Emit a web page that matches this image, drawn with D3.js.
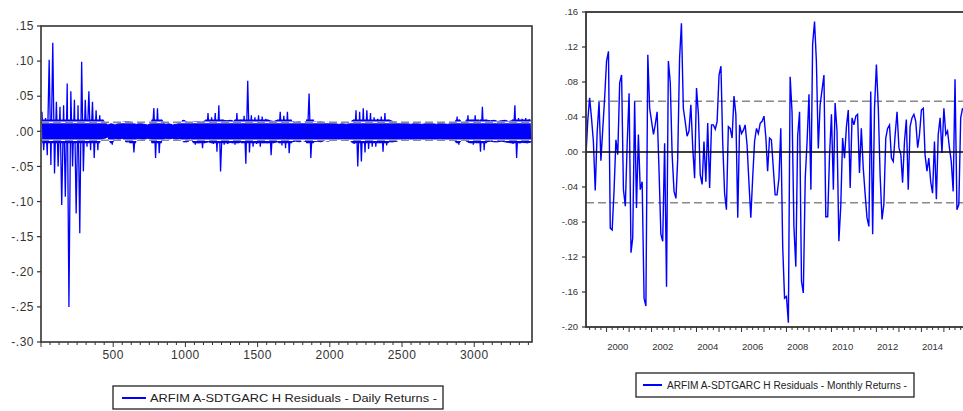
<!DOCTYPE html>
<html>
<head>
<meta charset="utf-8">
<script src="https://cdn.jsdelivr.net/npm/d3@7"></script>
<style>
  body { margin: 0; background: #fff; }
  svg { display: block; }
</style>
</head>
<body>
<div id="chart"></div>
<script>
// Daily residuals, read off the picture as a high / low envelope,
// one pair for every 25 observations (obs 0..3400).
const DAILY_BUCKET = 25;
const dailyHi = [
  0.028, 0.019, 0.102, 0.126, 0.042, 0.035, 0.037, 0.068, 0.057, 0.045,
  0.037, 0.099, 0.045, 0.057, 0.042, 0.030, 0.023, 0.014, 0.009, 0.011,
  0.009, 0.011, 0.013, 0.014, 0.014, 0.011, 0.010, 0.012, 0.010, 0.009,
  0.011, 0.033, 0.033, 0.016, 0.010, 0.011, 0.009, 0.010, 0.012, 0.016,
  0.013, 0.011, 0.014, 0.014, 0.013, 0.015, 0.026, 0.020, 0.026, 0.037,
  0.016, 0.015, 0.016, 0.014, 0.026, 0.016, 0.022, 0.072, 0.023, 0.020,
  0.023, 0.021, 0.018, 0.015, 0.014, 0.016, 0.028, 0.022, 0.028, 0.014,
  0.013, 0.014, 0.012, 0.014, 0.054, 0.014, 0.013, 0.014, 0.012, 0.013,
  0.011, 0.011, 0.010, 0.011, 0.010, 0.011, 0.016, 0.030, 0.028, 0.033,
  0.030, 0.026, 0.020, 0.018, 0.021, 0.026, 0.016, 0.014, 0.013, 0.011,
  0.012, 0.011, 0.010, 0.012, 0.011, 0.010, 0.011, 0.012, 0.011, 0.010,
  0.012, 0.011, 0.010, 0.011, 0.012, 0.021, 0.012, 0.013, 0.023, 0.016,
  0.023, 0.014, 0.035, 0.016, 0.015, 0.016, 0.014, 0.015, 0.016, 0.014,
  0.015, 0.037, 0.019, 0.018, 0.019, 0.017
];
const dailyLo = [
  -0.027, -0.034, -0.048, -0.060, -0.050, -0.105, -0.093, -0.250, -0.050, -0.117,
  -0.145, -0.057, -0.022, -0.027, -0.038, -0.027, -0.012, -0.010, -0.008, -0.019,
  -0.010, -0.012, -0.010, -0.015, -0.015, -0.030, -0.010, -0.011, -0.012, -0.010,
  -0.011, -0.038, -0.031, -0.013, -0.010, -0.011, -0.010, -0.012, -0.010, -0.015,
  -0.015, -0.010, -0.019, -0.017, -0.024, -0.016, -0.015, -0.018, -0.029, -0.057,
  -0.019, -0.018, -0.016, -0.019, -0.017, -0.015, -0.046, -0.030, -0.022, -0.018,
  -0.022, -0.017, -0.017, -0.034, -0.016, -0.015, -0.020, -0.024, -0.031, -0.015,
  -0.014, -0.015, -0.013, -0.015, -0.038, -0.015, -0.014, -0.015, -0.013, -0.014,
  -0.012, -0.012, -0.012, -0.011, -0.012, -0.012, -0.018, -0.050, -0.043, -0.030,
  -0.025, -0.022, -0.022, -0.016, -0.029, -0.020, -0.015, -0.015, -0.014, -0.012,
  -0.012, -0.011, -0.012, -0.012, -0.011, -0.012, -0.013, -0.011, -0.012, -0.012,
  -0.011, -0.012, -0.013, -0.012, -0.013, -0.019, -0.012, -0.013, -0.016, -0.019,
  -0.016, -0.029, -0.027, -0.015, -0.014, -0.015, -0.015, -0.014, -0.015, -0.016,
  -0.018, -0.038, -0.017, -0.016, -0.017, -0.016
];
const dailyBand = 0.0128;
const dailyCore = 0.017;   // depth of the solid, over-plotted core

// Monthly residuals, Feb 1999 onwards
const monthlyFirst = new Date(1999, 1, 1);
const monthlyResid = [
  -0.003, 0.035, 0.062, 0.039, 0.012, -0.044, 0.022, 0.057, -0.010, 0.027,
  0.062, 0.104, 0.115, -0.087, -0.089, -0.045, 0.014, -0.003, 0.079, 0.088,
  -0.043, -0.062, 0.010, 0.067, -0.115, -0.098, 0.058, -0.064, 0.020, -0.043,
  -0.034, -0.167, -0.176, 0.111, 0.050, 0.035, 0.020, 0.031, 0.046, -0.018,
  -0.094, -0.102, 0.010, -0.154, 0.104, 0.079, -0.003, -0.045, -0.053, -0.009,
  0.107, 0.147, 0.050, 0.035, 0.018, 0.024, 0.054, 0.005, -0.030, 0.073,
  0.043, -0.026, -0.037, 0.012, -0.034, 0.033, -0.041, 0.031, 0.031, 0.026,
  0.035, 0.088, 0.098, 0.012, -0.047, -0.066, 0.029, 0.027, 0.016, 0.064,
  0.043, -0.075, 0.031, 0.021, 0.025, 0.031, 0.008, -0.034, -0.075, -0.030,
  0.012, 0.027, 0.021, 0.033, 0.035, 0.041, 0.016, -0.022, 0.016, 0.014,
  -0.018, -0.049, -0.049, -0.030, 0.027, -0.108, -0.167, -0.165, -0.195, 0.086,
  0.045, -0.085, -0.131, 0.018, 0.046, -0.148, -0.161, -0.030, 0.012, 0.066,
  -0.043, 0.123, 0.149, 0.104, 0.004, 0.054, 0.071, 0.088, -0.074, -0.074,
  -0.003, 0.043, -0.043, 0.056, 0.024, -0.102, -0.062, 0.016, -0.007, 0.029,
  0.048, -0.041, 0.039, 0.031, 0.041, 0.043, -0.024, 0.027, -0.018, -0.047,
  -0.075, -0.085, 0.069, -0.094, 0.050, 0.100, 0.050, -0.026, -0.077, -0.060,
  0.016, 0.027, 0.031, -0.007, -0.011, 0.020, 0.046, 0.005, -0.003, -0.035,
  0.012, 0.037, -0.043, 0.029, 0.039, 0.043, 0.035, 0.005, 0.020, 0.048,
  0.050, -0.003, -0.022, -0.007, -0.034, -0.047, 0.012, -0.054, 0.020, 0.039,
  -0.001, 0.050, 0.020, 0.024, 0.005, -0.011, -0.045, 0.083, -0.066, -0.060,
  0.039, 0.050
];
const monthlyBand = 0.058;

const leftYTicks  = [0.15, 0.10, 0.05, 0.00, -0.05, -0.10, -0.15, -0.20, -0.25, -0.30];
const leftXTicks  = [500, 1000, 1500, 2000, 2500, 3000];
const rightYTicks = [0.16, 0.12, 0.08, 0.04, 0.00, -0.04, -0.08, -0.12, -0.16, -0.20];
const rightXYears = [2000, 2002, 2004, 2006, 2008, 2010, 2012, 2014];

const legendDaily   = "ARFIM A-SDTGARC H Residuals - Daily Returns -";
const legendMonthly = "ARFIM A-SDTGARC H Residuals - Monthly Returns -";

const W = 963, H = 411;
const FONT = "'Liberation Sans', Arial, sans-serif";
const BLUE = "#0000ff";
const FRAME = "#333";
const DASH = "#8a8a8a";

const fmt = v => {
  const s = Math.abs(v).toFixed(2).replace(/^0/, "");
  return (v < -1e-9 ? "-" : "") + s;
};

// grey dashes with white gaps, drawn over the series
function bandLine(g, x1, x2, y) {
  g.append("line")
    .attr("x1", x1).attr("x2", x2).attr("y1", y).attr("y2", y)
    .attr("stroke", "#fff").attr("stroke-width", 1.6);
  g.append("line")
    .attr("x1", x1).attr("x2", x2).attr("y1", y).attr("y2", y)
    .attr("stroke", DASH).attr("stroke-width", 1.6)
    .attr("stroke-dasharray", "8,4");
}

const svg = d3.select("#chart").append("svg")
  .attr("width", W).attr("height", H)
  .style("background", "#fff");

// ---------------- left panel: daily ----------------
const L = { left: 41, right: 532, top: 26, bottom: 342 };
const xL = d3.scaleLinear().domain([0, 3400]).range([L.left, L.right]);
const yL = d3.scaleLinear().domain([-0.30, 0.15]).range([L.bottom, L.top]);

const defs = svg.append("defs");
defs.append("clipPath").attr("id", "clipL")
  .append("rect")
  .attr("x", L.left).attr("y", L.top)
  .attr("width", L.right - L.left).attr("height", L.bottom - L.top);
defs.append("clipPath").attr("id", "clipCore")
  .append("rect")
  .attr("x", L.left).attr("y", yL(dailyCore))
  .attr("width", L.right - L.left).attr("height", yL(-dailyCore) - yL(dailyCore));

const gL = svg.append("g");

const dailyEnv = dailyHi.map((hi, k) => ({
  obs: k * DAILY_BUCKET + DAILY_BUCKET / 2,
  hi,
  lo: dailyLo[k]
}));

// solid core where the daily line over-plots itself
gL.append("path")
  .attr("clip-path", "url(#clipCore)")
  .attr("d", d3.area()
    .x(d => xL(d.obs))
    .y0(d => yL(d.lo))
    .y1(d => yL(d.hi))(dailyEnv))
  .attr("fill", BLUE)
  .attr("stroke", BLUE)
  .attr("stroke-width", 1);

// spikes: the line swings from each bucket's high to its low
const dailyPts = [];
dailyEnv.forEach(d => {
  dailyPts.push([d.obs - 6, d.hi]);
  dailyPts.push([d.obs + 6, d.lo]);
});
gL.append("path")
  .attr("clip-path", "url(#clipL)")
  .attr("d", d3.line().x(d => xL(d[0])).y(d => yL(d[1]))(dailyPts))
  .attr("fill", "none")
  .attr("stroke", BLUE)
  .attr("stroke-width", 1.3);

bandLine(gL, L.left, L.right, yL(dailyBand));
bandLine(gL, L.left, L.right, yL(-dailyBand));

gL.append("rect")
  .attr("x", L.left).attr("y", L.top)
  .attr("width", L.right - L.left).attr("height", L.bottom - L.top)
  .attr("fill", "none")
  .attr("stroke", FRAME)
  .attr("stroke-width", 1.6);

leftYTicks.forEach(t => {
  gL.append("line")
    .attr("x1", L.left - 4).attr("x2", L.left)
    .attr("y1", yL(t)).attr("y2", yL(t))
    .attr("stroke", FRAME).attr("stroke-width", 1.2);
  gL.append("text")
    .attr("x", L.left - 7).attr("y", yL(t))
    .attr("dy", "0.35em")
    .attr("text-anchor", "end")
    .attr("font-family", FONT).attr("font-size", "12px")
    .attr("letter-spacing", "0.5px")
    .attr("fill", "#333")
    .text(fmt(t));
});

d3.range(0, 3400 + 1, 62.5).forEach(t => {
  const major = t % 500 === 0;
  gL.append("line")
    .attr("x1", xL(t)).attr("x2", xL(t))
    .attr("y1", L.bottom).attr("y2", L.bottom + (major ? 5 : 3))
    .attr("stroke", FRAME).attr("stroke-width", 1);
});

leftXTicks.forEach(t => {
  gL.append("text")
    .attr("x", xL(t)).attr("y", 359)
    .attr("text-anchor", "middle")
    .attr("font-family", FONT).attr("font-size", "12px")
    .attr("letter-spacing", "0.5px")
    .attr("fill", "#333")
    .text(t);
});

// legend
const lgL = gL.append("g");
lgL.append("rect")
  .attr("x", 113).attr("y", 386).attr("width", 330).attr("height", 23)
  .attr("fill", "#fff").attr("stroke", "#222").attr("stroke-width", 1.3);
lgL.append("line")
  .attr("x1", 122).attr("x2", 146).attr("y1", 398).attr("y2", 398)
  .attr("stroke", BLUE).attr("stroke-width", 2);
lgL.append("text")
  .attr("x", 150).attr("y", 398).attr("dy", "0.35em")
  .attr("font-family", FONT).attr("font-size", "10.5px")
  .attr("textLength", 287).attr("lengthAdjust", "spacingAndGlyphs")
  .attr("fill", "#222")
  .text(legendDaily);

// ---------------- right panel: monthly ----------------
const R = { left: 586, right: 967, top: 12, bottom: 327 };
const lastMonth = new Date(1999, 1 + monthlyResid.length - 1, 1);
const xR = d3.scaleTime().domain([monthlyFirst, lastMonth]).range([586, 962.6]);
const yR = d3.scaleLinear().domain([-0.20, 0.16]).range([R.bottom, R.top]);

const months = monthlyResid.map((v, i) => ({ date: new Date(1999, 1 + i, 1), v }));

defs.append("clipPath").attr("id", "clipR")
  .append("rect")
  .attr("x", R.left).attr("y", R.top)
  .attr("width", R.right - R.left).attr("height", R.bottom - R.top);

const gR = svg.append("g");

[monthlyBand, -monthlyBand].forEach(b => {
  gR.append("line")
    .attr("x1", R.left).attr("x2", R.right)
    .attr("y1", yR(b)).attr("y2", yR(b))
    .attr("stroke", DASH)
    .attr("stroke-width", 1.6)
    .attr("stroke-dasharray", "8,4");
});

gR.append("path")
  .attr("clip-path", "url(#clipR)")
  .attr("d", d3.line().x(d => xR(d.date)).y(d => yR(d.v))(months))
  .attr("fill", "none")
  .attr("stroke", BLUE)
  .attr("stroke-width", 1.4);

gR.append("line")
  .attr("x1", R.left).attr("x2", R.right)
  .attr("y1", yR(0)).attr("y2", yR(0))
  .attr("stroke", "#000").attr("stroke-width", 1.5);

gR.append("rect")
  .attr("x", R.left).attr("y", R.top)
  .attr("width", R.right - R.left).attr("height", R.bottom - R.top)
  .attr("fill", "none")
  .attr("stroke", FRAME)
  .attr("stroke-width", 1.8);

rightYTicks.forEach(t => {
  gR.append("line")
    .attr("x1", R.left - 4).attr("x2", R.left)
    .attr("y1", yR(t)).attr("y2", yR(t))
    .attr("stroke", FRAME).attr("stroke-width", 1.2);
  gR.append("text")
    .attr("x", R.left - 8).attr("y", yR(t))
    .attr("dy", "0.35em")
    .attr("text-anchor", "end")
    .attr("font-family", FONT).attr("font-size", "9.5px")
    .attr("fill", "#333")
    .text(fmt(t));
});

d3.timeMonth.every(3).range(new Date(1999, 3, 1), new Date(2016, 0, 1)).forEach(d => {
  const major = d.getMonth() === 0;
  gR.append("line")
    .attr("x1", xR(d)).attr("x2", xR(d))
    .attr("y1", R.bottom).attr("y2", R.bottom + (major ? 5 : 3))
    .attr("stroke", FRAME).attr("stroke-width", 1);
});

rightXYears.forEach(y => {
  gR.append("text")
    .attr("x", xR(new Date(y, 6, 1))).attr("y", 350)
    .attr("text-anchor", "middle")
    .attr("font-family", FONT).attr("font-size", "9.5px")
    .attr("fill", "#333")
    .text(y);
});

const lgR = gR.append("g");
lgR.append("rect")
  .attr("x", 636).attr("y", 373).attr("width", 278).attr("height", 24)
  .attr("fill", "#fff").attr("stroke", "#222").attr("stroke-width", 1.3);
lgR.append("line")
  .attr("x1", 643).attr("x2", 662).attr("y1", 385).attr("y2", 385)
  .attr("stroke", BLUE).attr("stroke-width", 2);
lgR.append("text")
  .attr("x", 667).attr("y", 385).attr("dy", "0.35em")
  .attr("font-family", FONT).attr("font-size", "10px")
  .attr("textLength", 240).attr("lengthAdjust", "spacingAndGlyphs")
  .attr("fill", "#222")
  .text(legendMonthly);
</script>
</body>
</html>
